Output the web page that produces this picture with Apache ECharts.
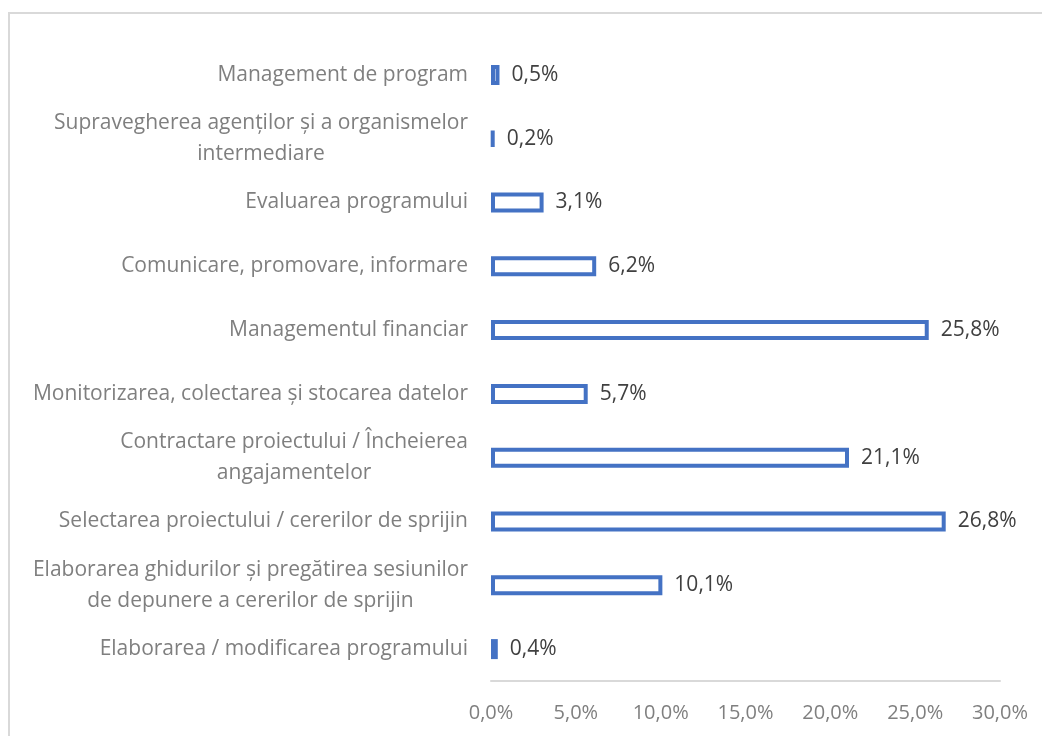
<!DOCTYPE html>
<html>
<head>
<meta charset="utf-8">
<script src="https://cdn.jsdelivr.net/npm/echarts@6/dist/echarts.min.js"></script>
<style>
  html, body { margin: 0; padding: 0; background: #fff; }
  #chart { width: 1042px; height: 736px; }
</style>
</head>
<body>
<div id="chart"></div>
<script>
// categories from top to bottom, as in the picture
var categories = [
  'Management de program',
  'Supravegherea agenților și a organismelor\nintermediare',
  'Evaluarea programului',
  'Comunicare, promovare, informare',
  'Managementul financiar',
  'Monitorizarea, colectarea și stocarea datelor',
  'Contractare proiectului / Încheierea\nangajamentelor',
  'Selectarea proiectului / cererilor de sprijin',
  'Elaborarea ghidurilor și pregătirea sesiunilor\nde depunere a cererilor de sprijin',
  'Elaborarea / modificarea programului'
];
var shares = [0.5, 0.2, 3.1, 6.2, 25.8, 5.7, 21.1, 26.8, 10.1, 0.4];
var axisTicks = [0, 5, 10, 15, 20, 25, 30];

var FONT = '"Open Sans", "Noto Sans", sans-serif';

function pct(v) {
  return v.toFixed(1).replace('.', ',') + '%';
}

var myChart = echarts.init(document.getElementById('chart'));

var option = {
  animation: false,
  backgroundColor: '#fff',
  graphic: [{
    type: 'rect',
    shape: { x: 9, y: 13, width: 1200, height: 900 },
    style: { fill: 'none', stroke: '#d9d9d9', lineWidth: 2 },
    silent: true
  }],
  grid: { left: 491, right: 42, top: 43, bottom: 55 },
  xAxis: {
    type: 'value',
    min: axisTicks[0],
    max: axisTicks[axisTicks.length - 1],
    interval: 5,
    axisLine: { show: true, lineStyle: { color: '#d9d9d9', width: 2 } },
    axisTick: { show: false },
    splitLine: { show: false },
    axisLabel: {
      margin: 22,
      color: '#7f7f7f',
      fontFamily: FONT,
      fontSize: 20,
      formatter: function (v) { return pct(v); }
    }
  },
  yAxis: {
    type: 'category',
    inverse: true,
    data: categories,
    axisLine: { show: false },
    axisTick: { show: false },
    axisLabel: {
      margin: 23,
      color: '#7f7f7f',
      fontFamily: FONT,
      fontSize: 21,
      lineHeight: 31,
      // centre the lines of wrapped labels under each other, like Excel does
      formatter: function (v) {
        return v.split('\n').map(function (l) { return '{c|' + l + '}'; }).join('\n');
      },
      rich: {
        c: { align: 'center', color: '#7f7f7f', fontFamily: FONT, fontSize: 21, lineHeight: 31 }
      }
    }
  },
  series: [{
    type: 'bar',
    data: shares,
    barWidth: 20,
    itemStyle: { color: '#fff', borderColor: '#4472c4', borderWidth: 4 },
    label: {
      show: true,
      position: 'right',
      distance: 12,
      color: '#404040',
      fontFamily: FONT,
      fontSize: 21,
      formatter: function (p) { return pct(p.value); }
    }
  }]
};

myChart.setOption(option);
</script>
</body>
</html>
